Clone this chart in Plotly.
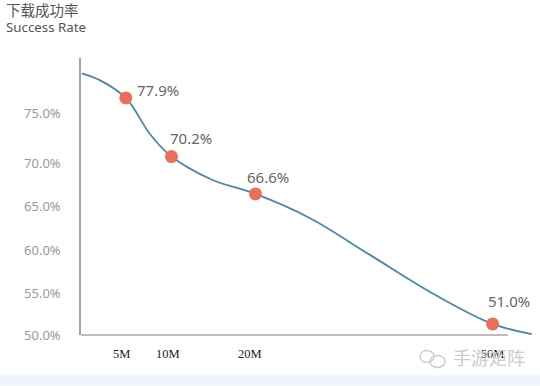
import plotly.graph_objects as go

W, H = 540, 386

# Curve (x in M, y in %, on the chart's drawn scale)
curve_x = [-0.4, 1.8, 5.0, 8.0, 10.6, 15.5, 20.9, 27.5, 35.0, 43.0, 50.0, 54.8]
curve_y = [80.8, 80.0, 77.9, 73.6, 71.0, 68.3, 66.6, 63.8, 59.4, 54.7, 51.3, 50.1]

point_x = [5.0, 10.6, 20.9, 50.0]
point_y = [77.9, 71.0, 66.6, 51.3]
point_labels = ["77.9%", "70.2%", "66.6%", "51.0%"]
label_dx = [32, 20, 13, 16]
label_dy = [8, 19, 17, 23]

y_tick_pos = [76.1, 70.2, 65.1, 60.0, 54.9, 50.0]
y_tick_labels = ["75.0%", "70.0%", "65.0%", "60.0%", "55.0%", "50.0%"]
x_tick_pos = [4.5, 10.15, 20.2, 50.0]
x_tick_labels = ["5M", "10M", "20M", "50M"]

SANS = "Noto Sans, 'Noto Sans CJK SC', sans-serif"

fig = go.Figure()
fig.add_trace(go.Scatter(x=curve_x, y=curve_y, mode="lines",
                         line=dict(color="#4a88aa", width=1.8, shape="spline", smoothing=1.0),
                         hoverinfo="skip", showlegend=False, cliponaxis=False))
fig.add_trace(go.Scatter(x=point_x, y=point_y, mode="markers",
                         marker=dict(color="#e8705a", size=13),
                         showlegend=False, cliponaxis=False))

for x, y, t, dx, dy in zip(point_x, point_y, point_labels, label_dx, label_dy):
    fig.add_annotation(x=x, y=y, text=t, showarrow=False, xshift=dx, yshift=dy,
                       font=dict(family=SANS, size=15, color="#666666"))

L, R, T, B = 81, 535, 58, 335.5
axis_end = (508 - L) / (R - L)

# Pale band at the foot of the page and the axis lines
fig.add_shape(type="rect", xref="paper", yref="paper", x0=-L / (R - L), x1=(W - L) / (R - L),
              y0=-(H - B) / (B - T), y1=-(376 - B) / (B - T),
              fillcolor="#eef2f9", line_width=0, layer="below")
fig.add_shape(type="line", xref="paper", yref="paper", x0=0, x1=axis_end, y0=0, y1=0,
              line=dict(color="#a6a6a6", width=1.5), layer="below")

# Title
fig.add_annotation(xref="paper", yref="paper", x=-(L - 4) / (R - L), y=1 + (T - 9) / (B - T),
                   text="下载成功率", showarrow=False, xanchor="left", yanchor="middle",
                   font=dict(family="'Noto Sans CJK SC', sans-serif", size=14.5, color="#555555"))
fig.add_annotation(xref="paper", yref="paper", x=-(L - 4) / (R - L), y=1 + (T - 27) / (B - T),
                   text="Success Rate", showarrow=False, xanchor="left", yanchor="middle",
                   font=dict(family=SANS, size=13.3, color="#555555"))

# Watermark
fig.add_annotation(xref="paper", yref="paper", x=(451 - L) / (R - L), y=-(358 - B) / (B - T),
                   text="手游矩阵", showarrow=False, xanchor="left", yanchor="middle",
                   font=dict(family="'Noto Sans CJK SC', sans-serif", size=18, color="#cccccc"))
for x0, x1, y0, y1 in [(420, 434, 351, 363), (430, 445, 356, 368)]:
    fig.add_shape(type="circle", xref="paper", yref="paper",
                  x0=(x0 - L) / (R - L), x1=(x1 - L) / (R - L),
                  y0=-(y1 - B) / (B - T), y1=-(y0 - B) / (B - T),
                  line=dict(color="#cccccc", width=1.5), layer="below")

fig.update_layout(
    width=W, height=H, autosize=False,
    margin=dict(l=L, r=W - R, t=T, b=H - B),
    paper_bgcolor="white", plot_bgcolor="white", showlegend=False,
    xaxis=dict(range=[-0.5, 55.2], tickvals=x_tick_pos, ticktext=x_tick_labels,
               showgrid=False, zeroline=False, showline=False, ticks="",
               ticklabelstandoff=9, fixedrange=True,
               tickfont=dict(family="'Liberation Serif', serif", size=12.5, color="#222222")),
    yaxis=dict(range=[50, 82.6], tickvals=y_tick_pos, ticktext=y_tick_labels,
               showgrid=False, zeroline=False, showline=True, linecolor="#a6a6a6", linewidth=1.5,
               ticks="", ticklabelstandoff=16, fixedrange=True,
               tickfont=dict(family=SANS, size=13, color="#999999")),
)

fig.write_html("out.html", config={"displayModeBar": False},
               post_script="document.body.style.margin='0';document.body.style.overflow='hidden';")
